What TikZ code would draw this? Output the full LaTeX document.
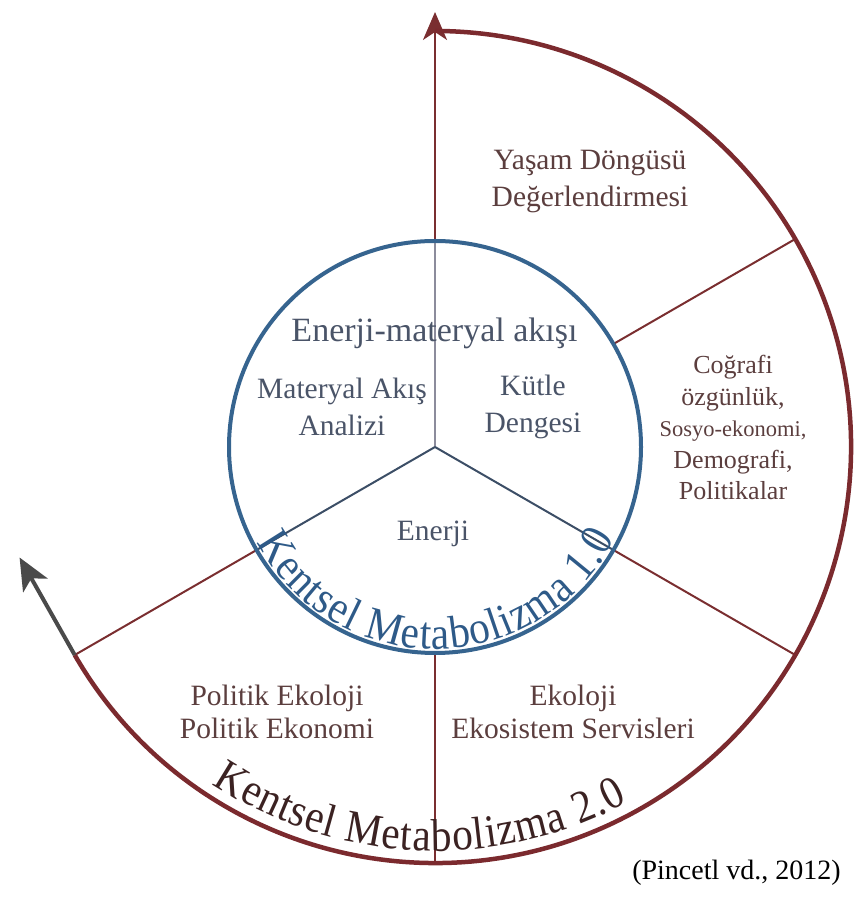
\documentclass[tikz,border=0pt]{standalone}
\usepackage{fontspec}
\setmainfont{Liberation Serif}
\newfontfamily\tallserif[FakeStretch=0.9]{Liberation Serif}
\usetikzlibrary{arrows.meta,decorations.text,calc}
\definecolor{arcred}{HTML}{7B2A2E}
\definecolor{spokered}{HTML}{7A2E30}
\definecolor{ringblue}{HTML}{36648F}
\definecolor{spokeblue}{HTML}{3C4E66}
\definecolor{vertgray}{HTML}{8C8C9C}
\definecolor{arrowgray}{HTML}{4A4A4A}
\definecolor{innertxt}{HTML}{4A5468}
\definecolor{outertxt}{HTML}{5B3E3E}
\definecolor{ringtxt}{HTML}{2E5A88}
\definecolor{arctxt}{HTML}{3B2222}
\tikzset{
  outerarc/.style={draw=arcred, line width=4.5pt},
  outerspoke/.style={draw=spokered, line width=2pt},
  topline/.style={draw=spokered, line width=2.5pt, -{Stealth[length=28pt,width=24pt,inset=8pt]}},
  grayarrow/.style={draw=arrowgray, line width=4pt, -{Stealth[length=32pt,width=28pt,inset=8pt]}},
  ring/.style={draw=ringblue, line width=4pt},
  innerspoke/.style={draw=spokeblue, line width=2pt},
  innervert/.style={draw=vertgray, line width=1.5pt},
  inlabel/.style={text=innertxt, align=center, font=\fontsize{29.5}{37}\selectfont},
  outlabel/.style={text=outertxt, align=center, font=\fontsize{29.5}{37}\selectfont},
}
\begin{document}
\begin{tikzpicture}[x=1pt,y=1pt]
\useasboundingbox (0,0) rectangle (859,909);
\coordinate (C) at (435,462);
\foreach \a in {30,90,210,270,330} {
  \coordinate (i\a) at ($(C)+(\a:206)$);
  \coordinate (o\a) at ($(C)+(\a:416)$);
}
\coordinate (top) at (435,897);
\coordinate (gtip) at ($(o210)+(119.5:112)$);
% outer spokes
\draw[outerspoke] (i30) -- (o30);
\draw[outerspoke] (i210) -- (o210);
\draw[outerspoke] (i270) -- (o270);
\draw[outerspoke] (i330) -- (o330);
\draw[topline] (i90) -- (top);
% outer arc
\draw[outerarc] (o210) arc[start angle=210, end angle=450, radius=416];
\draw[grayarrow] (o210) -- (gtip);
% inner circle
\draw[innervert] (C) -- (i90);
\draw[innerspoke] (C) -- (i210);
\draw[innerspoke] (C) -- (i330);
\draw[ring] (C) circle[radius=206];
% curved texts
\path[decorate, decoration={text along path, text align=fit to path, text color=ringtxt,
  text={|\tallserif\fontsize{46}{46}\selectfont|Kentsel Metabolizma 1.0}}]
  ($(C)+(208:202)$) arc[start angle=208, end angle=333, radius=202];
\path[decorate, decoration={text along path, text align=fit to path, text color=arctxt,
  text={|\tallserif\fontsize{46}{46}\selectfont|Kentsel Metabolizma 2.0}}]
  ($(C)+(236.5:404)$) arc[start angle=236.5, end angle=298.5, radius=404];
% inner labels
\node[inlabel, font=\fontsize{34}{40}\selectfont] (flow) at (434.5,576) {Enerji-materyal akışı};
\node[inlabel] (mfa) at (342,502.5) {Materyal Akış\\Analizi};
\node[inlabel] (mass) at (533,502.5) {Kütle\\Dengesi};
\node[inlabel] (energy) at (433,375) {Enerji};
% outer labels
\node[outlabel] (lca) at (590,727.5) {Yaşam Döngüsü\\Değerlendirmesi};
\node[outlabel, font=\fontsize{26}{31.5}\selectfont] (geo) at (733,481.5)
  {Coğrafi\\özgünlük,\\{\fontsize{22.5}{31.5}\selectfont Sosyo-ekonomi,}\\Demografi,\\Politikalar};
\node[outlabel, font=\fontsize{29.5}{33}\selectfont] (pol) at (277,197.5) {Politik Ekoloji\\Politik Ekonomi};
\node[outlabel, font=\fontsize{29.5}{33}\selectfont] (eco) at (573,197.5) {Ekoloji\\Ekosistem Servisleri};
\node[text=black, font=\fontsize{28}{32}\selectfont] (cite) at (736.5,36) {(Pincetl vd., 2012)};
\end{tikzpicture}
\end{document}
